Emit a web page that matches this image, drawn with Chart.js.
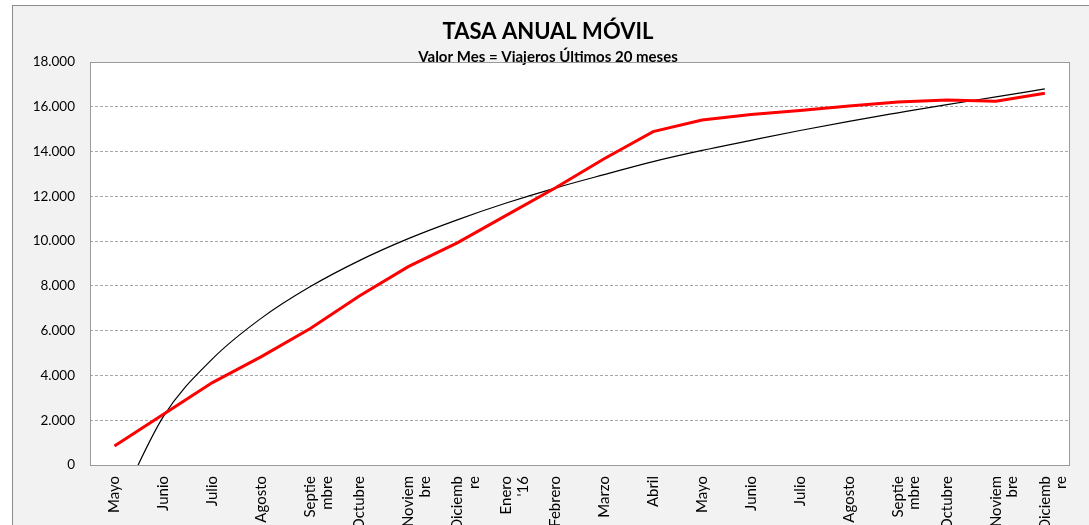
<!DOCTYPE html>
<html>
<head>
<meta charset="utf-8">
<script src="https://cdn.jsdelivr.net/npm/chart.js@4/dist/chart.umd.min.js"></script>
<style>
  html, body { margin: 0; padding: 0; background: #ffffff; overflow: hidden; }
  body { width: 1089px; height: 525px; position: relative; }
  #frame {
    position: absolute; left: 12px; top: 5px;
    width: 1100px; height: 560px;
    border: 1px solid #8c8c8c; background: #f2f2f2;
  }
  #chart { position: absolute; left: 0; top: 0; }
</style>
</head>
<body>
<div id="frame"><canvas id="chart" width="1076" height="519"></canvas></div>
<script>
// Month categories (May 2015 .. December 2016)
const months = [
  "Mayo", "Junio", "Julio", "Agosto", ["Septie", "mbre"], "Octubre",
  ["Noviem", "bre"], ["Diciemb", "re"], ["Enero", "'16"], "Febrero", "Marzo",
  "Abril", "Mayo", "Junio", "Julio", "Agosto", ["Septie", "mbre"], "Octubre",
  ["Noviem", "bre"], ["Diciemb", "re"]
];

// Moving annual total of travellers
const travellers = [
  850, 2270, 3680, 4840, 6100, 7550, 8860, 9920, 11150, 12370,
  13680, 14890, 15410, 15660, 15830, 16030, 16210, 16300, 16250, 16600
];

// Logarithmic trend line
const trend = [
  -2230, 2170, 4740, 6560, 7970, 9130, 10110, 10950, 11700, 12370,
  12970, 13550, 14050, 14500, 14940, 15350, 15730, 16100, 16440, 16800
];

// Value axis ticks
const yMin = 0, yMax = 18000, yStep = 2000;

const titleText = "TASA ANUAL MÓVIL";
const subtitleText = "Valor Mes = Viajeros Últimos 20 meses";

const FONT = "Lato, 'Open Sans', sans-serif";

function fmt(v) {
  return String(v).replace(/\B(?=(\d{3})+(?!\d))/g, ".");
}

// White plot area with a grey frame
const plotFrame = {
  id: "plotFrame",
  beforeDraw(chart) {
    const a = chart.chartArea, ctx = chart.ctx;
    ctx.save();
    ctx.fillStyle = "#ffffff";
    ctx.fillRect(a.left, a.top, a.right - a.left, a.bottom - a.top);
    ctx.restore();
  },
  beforeDatasetsDraw(chart) {
    const a = chart.chartArea, ctx = chart.ctx;
    ctx.save();
    ctx.strokeStyle = "#9a9a9a";
    ctx.lineWidth = 1;
    ctx.strokeRect(Math.round(a.left) + 0.5, Math.round(a.top) + 0.5,
                   Math.round(a.right - a.left), Math.round(a.bottom - a.top));
    ctx.restore();
  }
};

function draw() {
  new Chart(document.getElementById("chart"), {
    type: "line",
    data: {
      labels: months,
      datasets: [
        {
          data: trend,
          borderColor: "#000000",
          borderWidth: 1.2,
          pointRadius: 0,
          cubicInterpolationMode: "monotone",
          order: 2
        },
        {
          data: travellers,
          borderColor: "#ff0000",
          borderWidth: 3,
          pointRadius: 0,
          tension: 0,
          order: 1
        }
      ]
    },
    options: {
      responsive: false,
      animation: false,
      devicePixelRatio: 1,
      layout: { padding: { left: 0, right: 6, top: 0, bottom: 0 } },
      plugins: {
        legend: { display: false },
        tooltip: { enabled: false },
        title: {
          display: true,
          text: titleText,
          color: "#000000",
          font: { family: FONT, size: 22, weight: "bold", lineHeight: 1.2 },
          padding: { top: 13, bottom: 6.6 }
        },
        subtitle: {
          display: true,
          text: subtitleText,
          color: "#000000",
          font: { family: FONT, size: 15, weight: "bold", lineHeight: 0.667 },
          padding: { top: 0, bottom: 0 }
        }
      },
      scales: {
        x: {
          type: "category",
          offset: true,
          grid: { display: false, drawTicks: false },
          border: { display: false },
          ticks: {
            autoSkip: false,
            minRotation: 90,
            maxRotation: 90,
            padding: 11,
            color: "#000000",
            font: { family: FONT, size: 15, lineHeight: 1.1 }
          },
          afterFit(scale) { scale.height = 60; }
        },
        y: {
          min: yMin,
          max: yMax,
          grid: {
            drawTicks: false,
            lineWidth: 1,
            color: (c) => (c.tick && (c.tick.value === yMin || c.tick.value === yMax))
              ? "rgba(0,0,0,0)" : "#a6a6a6"
          },
          border: { display: false, dash: [3, 2] },
          ticks: {
            stepSize: yStep,
            padding: 15,
            color: "#000000",
            font: { family: FONT, size: 13.5 },
            callback: (v) => fmt(v)
          },
          afterFit(scale) { scale.width = 77; }
        }
      }
    },
    plugins: [plotFrame]
  });
}

if (document.fonts && document.fonts.load) {
  Promise.all([
    document.fonts.load("13px Lato"),
    document.fonts.load("bold 22px Lato")
  ]).then(draw, draw);
} else {
  draw();
}
</script>
</body>
</html>
